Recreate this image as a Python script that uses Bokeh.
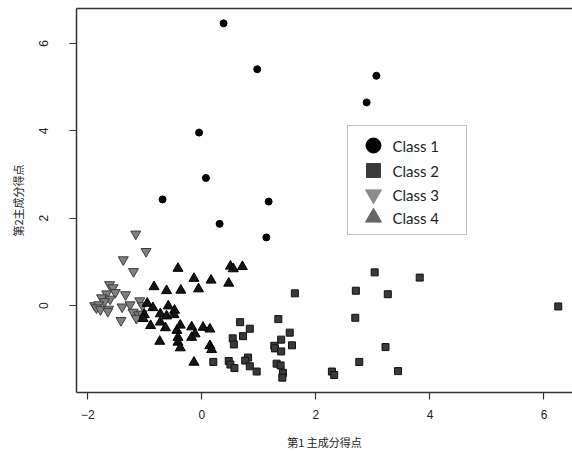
from bokeh.plotting import figure
from bokeh.models import Range1d, FixedTicker, LinearAxis, ColumnDataSource
from bokeh.core.properties import value
from bokeh.embed import file_html
from bokeh.resources import INLINE

# Principal component scores (PC1, PC2) for each class
class1_pc1 = [0.38, 0.97, 3.06, 2.89, -0.05, 0.07, -0.69, 1.17, 0.31, 1.13]
class1_pc2 = [6.46, 5.41, 5.26, 4.65, 3.96, 2.92, 2.43, 2.38, 1.87, 1.56]

class2_pc1 = [3.03, 3.82, 1.63, 2.70, 3.26, 0.67, 1.34, 2.69, 0.84, 1.54,
              0.54, 0.72, 1.39, 0.56, 1.27, 1.58, 1.28, 1.39, 3.22, 0.20,
              0.47, 0.50, 0.57, 0.81, 0.76, 0.84, 0.96, 1.31, 1.38, 1.42,
              1.41, 2.76, 2.28, 2.32, 3.44, 6.25]
class2_pc2 = [0.76, 0.64, 0.28, 0.34, 0.26, -0.38, -0.31, -0.28, -0.53, -0.62,
              -0.75, -0.70, -0.78, -0.89, -0.92, -0.91, -0.98, -1.05, -0.95, -1.29,
              -1.27, -1.35, -1.43, -1.19, -1.26, -1.39, -1.51, -1.33, -1.37, -1.54,
              -1.65, -1.29, -1.51, -1.59, -1.50, -0.02]

class3_pc1 = [-1.16, -0.98, -1.38, -1.20, -1.62, -1.56, -1.52, -1.67, -1.34, -1.76,
              -1.61, -1.71, -1.88, -1.81, -1.85, -1.78, -1.64, -1.09, -1.40, -1.26,
              -1.04, -1.21, -1.11, -1.15, -1.42, -1.65, -1.05]
class3_pc2 = [1.64, 1.24, 1.05, 0.78, 0.48, 0.41, 0.30, 0.27, 0.25, 0.18,
              0.15, 0.09, 0.00, 0.02, -0.05, -0.09, -0.08, 0.11, -0.03, 0.02,
              0.00, -0.15, -0.21, -0.29, -0.34, -0.13, -0.19]

class4_pc1 = [-0.42, 0.50, 0.55, 0.71, -0.14, 0.16, 0.47, -0.84, -0.62, -0.37,
              -0.06, -0.96, -0.86, -0.59, -0.73, -0.62, -0.48, -0.49, -1.01, -0.90,
              -0.73, -0.64, -0.44, -0.38, -0.18, -0.12, -0.18, 0.02, 0.14, -0.42,
              -0.42, -0.74, -0.38, 0.14, 0.17, -0.14, -1.03]
class4_pc2 = [0.85, 0.90, 0.84, 0.89, 0.62, 0.58, 0.51, 0.43, 0.34, 0.35,
              0.38, 0.05, -0.05, -0.01, -0.19, -0.24, -0.11, -0.21, -0.21, -0.46,
              -0.38, -0.51, -0.57, -0.45, -0.49, -0.65, -0.73, -0.50, -0.54, -0.73,
              -0.84, -0.82, -0.97, -0.92, -1.01, -1.30, -0.30]

class_names = ["Class 1", "Class 2", "Class 3", "Class 4"]
x_ticks = [-2, 0, 2, 4, 6]
y_ticks = [0, 2, 4, 6]

W, H = 572, 452
LEFT, TOP, BOTTOM = 76, 8, 60

p = figure(width=W, height=H, output_backend="svg", toolbar_location=None,
           x_range=Range1d(-2.2, 6.5), y_range=Range1d(-1.99, 6.8),
           min_border_left=LEFT, min_border_right=0,
           min_border_top=TOP, min_border_bottom=BOTTOM,
           x_axis_label="第1 主成分得点", y_axis_label="第2主成分得点")
p.outline_line_color = None
p.grid.visible = False
p.background_fill_color = "white"
p.border_fill_color = "white"

# pixel-space ranges for the legend panel
p.extra_x_ranges = {"px": Range1d(LEFT, W)}
p.extra_y_ranges = {"px": Range1d(H - BOTTOM, TOP)}

for ax, ticks in ((p.xaxis[0], x_ticks), (p.yaxis[0], y_ticks)):
    ax.ticker = FixedTicker(ticks=ticks)
    ax.minor_tick_line_color = None
    ax.major_tick_in = 0
    ax.major_tick_out = 7
    ax.axis_line_color = "#333333"
    ax.axis_line_width = 1.5
    ax.major_tick_line_color = "#333333"
    ax.major_tick_line_width = 1.2
    ax.major_label_text_font = "Liberation Sans"
    ax.major_label_text_font_size = "12px"
    ax.major_label_text_color = "#222222"
    ax.axis_label_text_font = "Noto Sans CJK JP"
    ax.axis_label_text_font_size = "11px"
    ax.axis_label_text_font_style = "normal"
    ax.axis_label_text_color = "#222222"

p.xaxis.major_label_standoff = 10
p.xaxis.axis_label_standoff = 12
p.yaxis.major_label_orientation = "vertical"
p.yaxis.major_label_standoff = 21
p.yaxis.axis_label_standoff = 11

# top border line
top = LinearAxis(ticker=FixedTicker(ticks=[]), major_tick_out=0, major_tick_in=0,
                 minor_tick_out=0, minor_tick_in=0,
                 axis_line_color="#333333", axis_line_width=1.5,
                 major_label_text_font_size="0px")
p.add_layout(top, "above")

# data points
p.scatter(class1_pc1, class1_pc2, marker="circle", size=7,
          fill_color="black", line_color="black")
p.scatter(class2_pc1, class2_pc2, marker="square", size=7,
          fill_color="#3a3a3a", line_color="#111111", line_width=1)
p.scatter(class3_pc1, class3_pc2, marker="inverted_triangle", size=10,
          fill_color="#808080", line_color="#3c3c3c", line_width=1)
p.scatter(class4_pc1, class4_pc2, marker="triangle", size=10,
          fill_color="#151515", line_color="#000000", line_width=1)

# legend panel
box_l, box_r, box_t, box_b = 347, 466, 125, 234
p.quad(left=[box_l], right=[box_r], top=[box_t], bottom=[box_b],
       fill_color="white", line_color="#bdbdbd", line_width=1,
       x_range_name="px", y_range_name="px")
row_y = [145, 170, 194, 217]
leg = ColumnDataSource(dict(
    x=[373] * 4, y=row_y,
    marker=["circle", "square", "inverted_triangle", "triangle"],
    size=[15, 14, 16, 16],
    color=["#000000", "#3a3a3a", "#8a8a8a", "#666666"],
    tx=[392] * 4, label=class_names))
p.scatter("x", "y", marker="marker", size="size", fill_color="color",
          line_color="color", source=leg, x_range_name="px", y_range_name="px")
p.text("tx", "y", text="label", source=leg, text_font=value("Lato"),
       text_font_size="15px", text_color="#222222", text_baseline="middle",
       x_range_name="px", y_range_name="px")

open("out.html", "w").write(file_html(p, INLINE))
